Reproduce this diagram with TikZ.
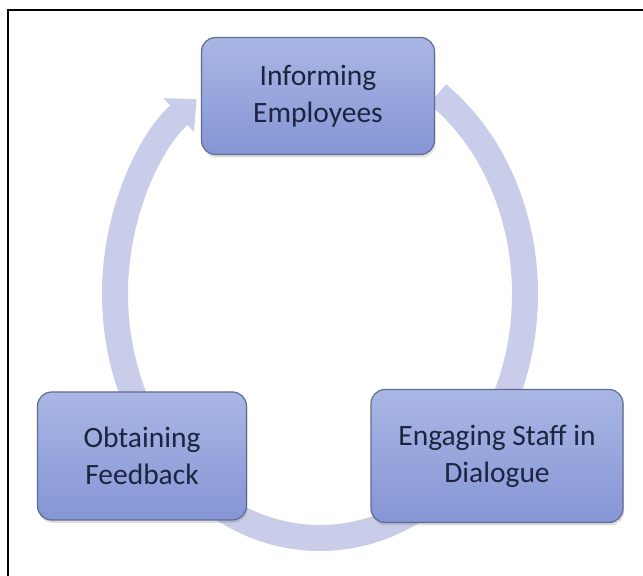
\documentclass[tikz,border=0pt]{standalone}
\usepackage{fontspec}
\setmainfont{Carlito}
\usetikzlibrary{arrows.meta}
\usetikzlibrary{shadows}
\definecolor{cycle lilac}{HTML}{C9CDEA}
\definecolor{box top}{HTML}{AAB7E4}
\definecolor{box bottom}{HTML}{8595D5}
\definecolor{box edge}{HTML}{5E6C94}
\definecolor{box text}{HTML}{1C2440}

\tikzset{
  stage/.style = {rounded corners = 14pt, draw = box edge, line width = 1.2pt,
    top color = box top, bottom color = box bottom, text = box text,
    align = center, font = \fontsize{29.5}{37}\selectfont,
    drop shadow = {shadow xshift = 1pt, shadow yshift = -3pt, opacity = 0.25}},
}

\begin{document}
\begin{tikzpicture}[x = 1pt, y = 1pt]
      \useasboundingbox (0, 0) rectangle (643, 576);
      \draw[line width = 2pt] (8, 0) -- (8, 566) -- (643, 566);

      % the cycle behind the stages
      \coordinate (hub) at (320, 282);
      \draw[line width = 26pt, cycle lilac, -{Triangle[length = 24pt, width = 44pt]}] %
        ([shift = {(55:205 and 244)}] hub) %
        arc[start angle = 55, end angle = -233, x radius = 205, y radius = 244];

      \node[stage, minimum width = 233pt, minimum height = 117pt] (inform) at (318, 480) %
        {Informing\\Employees};
      \node[stage, minimum width = 252pt, minimum height = 133pt] (engage) at (497, 120) %
        {Engaging Staff in\\Dialogue};
      \node[stage, minimum width = 209pt, minimum height = 128pt] (feedback) at (142, 120) %
        {Obtaining\\Feedback};
    \end{tikzpicture}
\end{document}
